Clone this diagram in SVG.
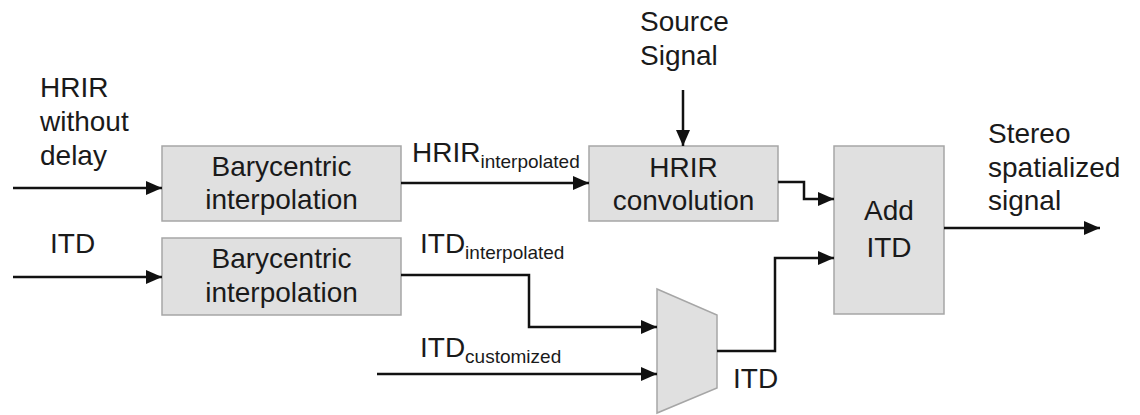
<svg xmlns="http://www.w3.org/2000/svg" width="1140" height="415" viewBox="0 0 1140 415">
  <style>
    .box { fill: #e0e0e0; stroke: #a6a6a6; stroke-width: 1.5; }
    .t { font-family: "Liberation Sans", Arial, sans-serif; font-size: 28px; fill: #1a1a1a; }
    .c { text-anchor: middle; }
    .sub { font-size: 19px; }
    .wire { fill: none; stroke: #111; stroke-width: 2.5; }
  </style>
  <defs>
    <marker id="arrow" viewBox="0 0 16 14" refX="16" refY="7" markerWidth="16" markerHeight="14" markerUnits="userSpaceOnUse" orient="auto">
      <path d="M0,0 L16,7 L0,14 Z" fill="#111"/>
    </marker>
  </defs>

  <rect width="1140" height="415" fill="#ffffff"/>

  <!-- blocks -->
  <g id="interp-hrir">
    <rect class="box" x="162" y="146" width="239" height="75"/>
    <text class="t c" x="281.5" y="176">Barycentric</text>
    <text class="t c" x="281.5" y="209">interpolation</text>
  </g>
  <g id="interp-itd">
    <rect class="box" x="162" y="238" width="239" height="77"/>
    <text class="t c" x="281.5" y="268">Barycentric</text>
    <text class="t c" x="281.5" y="302">interpolation</text>
  </g>
  <g id="convolution">
    <rect class="box" x="589" y="146" width="189" height="75"/>
    <text class="t c" x="683.5" y="177">HRIR</text>
    <text class="t c" x="683.5" y="210">convolution</text>
  </g>
  <g id="add-itd">
    <rect class="box" x="834" y="146" width="110" height="168"/>
    <text class="t c" x="889" y="220">Add</text>
    <text class="t c" x="889" y="257">ITD</text>
  </g>
  <g id="mux">
    <polygon class="box" points="657,289 717,315 717,388 657,413"/>
  </g>

  <!-- signal paths -->
  <g id="connectors">
    <line class="wire" x1="13" y1="188" x2="162" y2="188" marker-end="url(#arrow)"/>
    <line class="wire" x1="13" y1="277" x2="162" y2="277" marker-end="url(#arrow)"/>
    <line class="wire" x1="401" y1="183" x2="589" y2="183" marker-end="url(#arrow)"/>
    <line class="wire" x1="683" y1="90" x2="683" y2="146" marker-end="url(#arrow)"/>
    <polyline class="wire" points="778,182 804,182 804,199 834,199" marker-end="url(#arrow)"/>
    <line class="wire" x1="944" y1="228" x2="1100" y2="228" marker-end="url(#arrow)"/>
    <polyline class="wire" points="401,275 529,275 529,327 657,327" marker-end="url(#arrow)"/>
    <line class="wire" x1="377" y1="374" x2="657" y2="374" marker-end="url(#arrow)"/>
    <polyline class="wire" points="717,351 775,351 775,258 834,258" marker-end="url(#arrow)"/>
  </g>

  <!-- signal labels -->
  <g id="labels">
    <text class="t" x="40" y="97">HRIR</text>
    <text class="t" x="40" y="131">without</text>
    <text class="t" x="40" y="165">delay</text>
    <text class="t" x="50" y="253">ITD</text>
    <text class="t" x="640" y="31">Source</text>
    <text class="t" x="640" y="65">Signal</text>
    <text class="t" x="412" y="162">HRIR<tspan class="sub" dy="6">interpolated</tspan></text>
    <text class="t" x="420" y="253">ITD<tspan class="sub" dy="6">interpolated</tspan></text>
    <text class="t" x="420" y="357">ITD<tspan class="sub" dy="6">customized</tspan></text>
    <text class="t" x="733" y="388">ITD</text>
    <text class="t" x="988" y="143">Stereo</text>
    <text class="t" x="988" y="176.5">spatialized</text>
    <text class="t" x="988" y="210">signal</text>
  </g>
</svg>
